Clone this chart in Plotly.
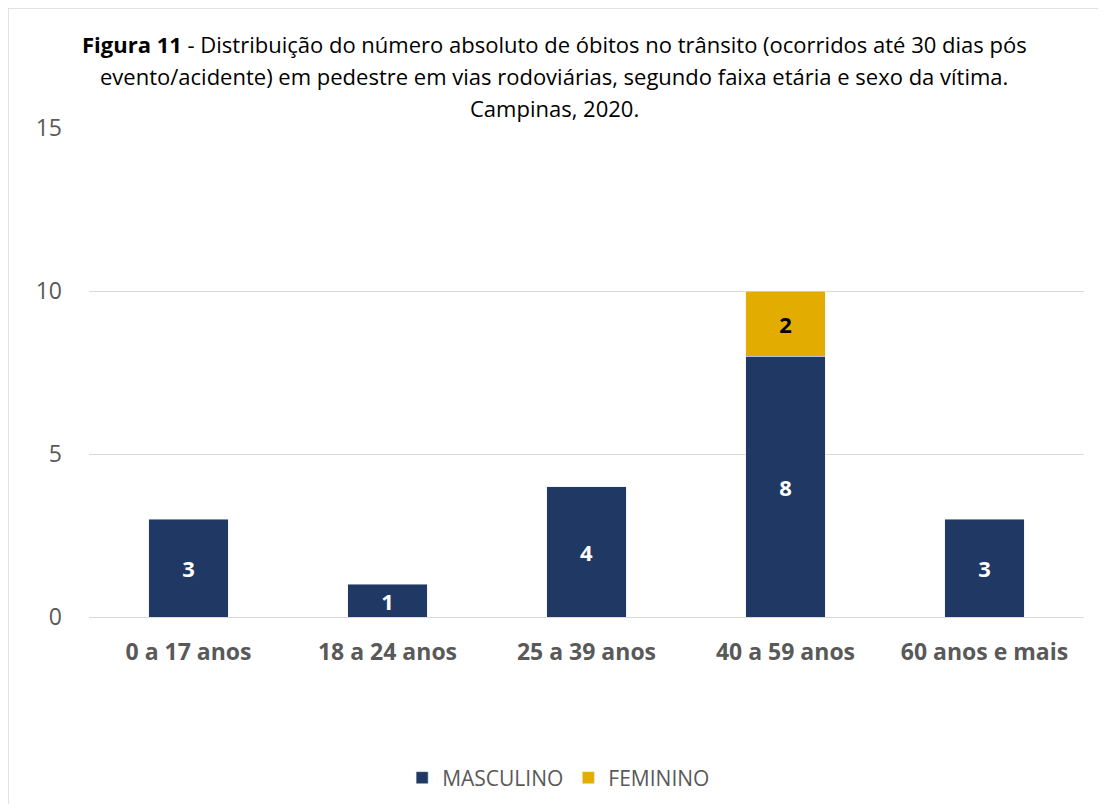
import plotly.graph_objects as go

faixas = ['0 a 17 anos', '18 a 24 anos', '25 a 39 anos', '40 a 59 anos', '60 anos e mais']
masculino = [3, 1, 4, 8, 3]
feminino = [None, None, None, 2, None]
y_ticks = [0, 5, 10, 15]

AZUL = '#1F3864'
OURO = '#E2AC00'
FONTE = 'Open Sans'

# a pagina tem 8px de margem no body, por isso a figura e menor
W, H = 1090, 796
L, R, T, B = 81, 14, 120, 187
PW, PH = W - L - R, H - T - B

fig = go.Figure()
fig.add_trace(go.Bar(
    x=faixas, y=masculino, name='MASCULINO',
    marker=dict(color=AZUL),
    text=masculino, textposition='inside', insidetextanchor='middle',
    constraintext='none', textangle=0,
    textfont=dict(color='white', size=22, family=FONTE, weight='bold'),
))
fig.add_trace(go.Bar(
    x=faixas, y=feminino, name='FEMININO',
    marker=dict(color=OURO),
    text=feminino, textposition='inside', insidetextanchor='middle',
    constraintext='none', textangle=0,
    textfont=dict(color='black', size=22, family=FONTE, weight='bold'),
))

linhas = ['<b>Figura 11</b> - Distribuição do número absoluto de óbitos no trânsito (ocorridos até 30 dias pós',
          'evento/acidente) em pedestre em vias rodoviárias, segundo faixa etária e sexo da vítima.',
          'Campinas, 2020.']
for i, txt in enumerate(linhas):
    fy = 36 + 32 * i
    fig.add_annotation(text=txt, xref='paper', yref='paper',
                       x=(546 - L) / PW, y=(H - B - fy) / PH,
                       xanchor='center', yanchor='middle', showarrow=False,
                       font=dict(family=FONTE, size=22, color='black'))

fig.update_layout(
    width=W, height=H,
    barmode='stack', bargap=0.6,
    plot_bgcolor='white', paper_bgcolor='white',
    margin=dict(l=L, r=R, t=T, b=B, autoexpand=False),
    font=dict(family=FONTE, color='#595959', size=22),
    legend=dict(orientation='h', x=0.472, xanchor='center', y=(H - B - 770) / PH, yanchor='middle',
                font=dict(size=21, color='#595959'), traceorder='normal'),
    showlegend=True,
)
fig.update_yaxes(range=[0, 15], tickvals=y_ticks, showgrid=True, gridcolor='#D9D9D9',
                 gridwidth=1, zeroline=False, ticks='', ticklabelstandoff=26, automargin=False,
                 tickfont=dict(size=23, color='#595959'))
fig.update_xaxes(showline=True, linecolor='#D9D9D9', ticks='', ticklabelstandoff=14, automargin=False,
                 tickfont=dict(size=23, color='#595959', weight='bold'))

fig.add_shape(type='rect', xref='paper', yref='paper',
              x0=-L / PW, x1=1.2, y0=-0.6, y1=(H - B) / PH,
              line=dict(color='#D9D9D9', width=1.5), layer='below')

fig.write_html('out.html')
